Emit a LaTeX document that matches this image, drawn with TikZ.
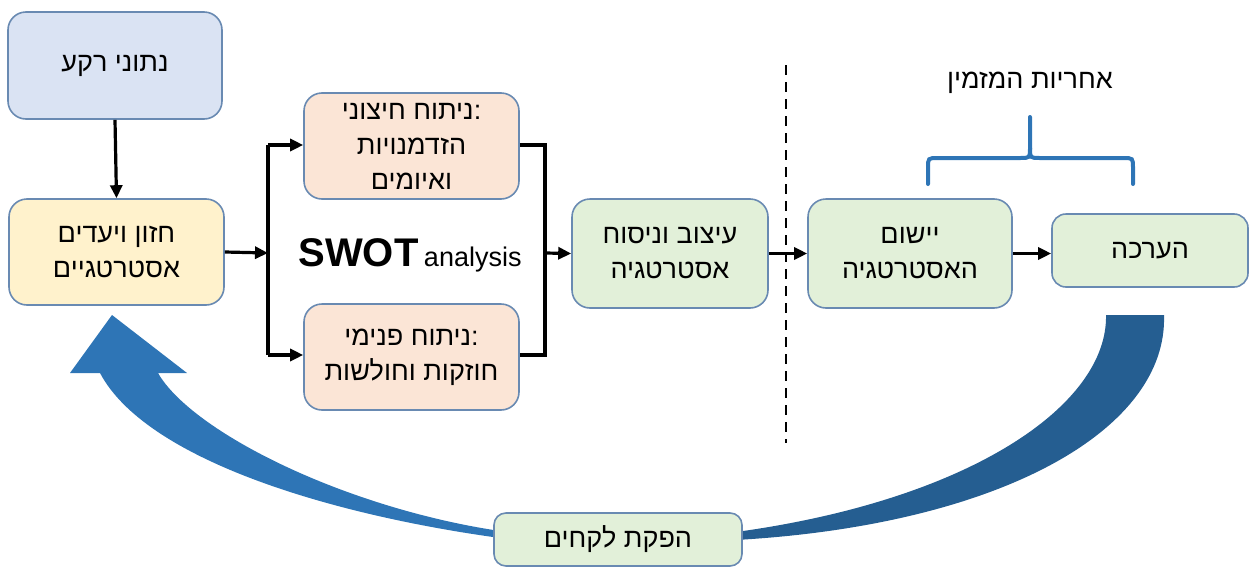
\documentclass[tikz,border=0pt]{standalone}
\usepackage{fontspec}
\setmainfont{Liberation Sans}
\newfontfamily\hebfont[Script=Hebrew]{Liberation Sans}
\TeXXeTstate=1
\usetikzlibrary{arrows.meta}
\definecolor{bordc}{RGB}{105,138,178}
\definecolor{fillblue}{RGB}{218,227,243}
\definecolor{fillyellow}{RGB}{255,242,204}
\definecolor{fillpeach}{RGB}{251,229,214}
\definecolor{fillgreen}{RGB}{226,240,217}
\definecolor{arrowlight}{RGB}{46,117,182}
\definecolor{arrowdark}{RGB}{37,94,145}
\definecolor{bracec}{RGB}{46,117,182}
\begin{document}
\begin{tikzpicture}[x=0.5pt,y=-0.5pt,
  box/.style={draw=bordc, line width=0.8pt, rounded corners=9pt, inner sep=0pt,
    align=center, font=\hebfont\fontsize{13.5}{17.5}\selectfont},
  conn/.style={line width=1.6pt, -{Triangle[length=6.5pt,width=6pt]}},
  plainconn/.style={line width=1.6pt},
  divider/.style={line width=1pt, dash pattern=on 5pt off 3.5pt},
  bracestyle/.style={draw=bracec, line width=2pt, line cap=round},
  lbl/.style={font=\hebfont\fontsize{13.5}{17.5}\selectfont, inner sep=0pt}]
\useasboundingbox (0,0) rectangle (1249,568);

% big curved feedback arrow (drawn first, behind the boxes)
\fill[arrowlight] (500,538) .. controls (325,514) and (145,458) .. (100,373)
  -- (70,373) -- (112,315) -- (187,373) -- (158,373)
  .. controls (192,432) and (345,508) .. (500,531) -- cycle;
\fill[arrowdark] (736,540) .. controls (1000,525) and (1168,430) .. (1164,315)
  -- (1106,315)
  .. controls (1108,405) and (970,500) .. (736,532) -- cycle;

% boxes
\node[box, fill=fillblue, minimum width=107pt, minimum height=53.5pt] (bg) at (115,65.5) {\beginR נתוני רקע\endR};
\node[box, fill=fillyellow, minimum width=107.5pt, minimum height=53pt] (vis) at (116.5,252) {\beginR חזון ויעדים\endR\\\beginR אסטרטגיים\endR};
\node[box, fill=fillpeach, minimum width=107.5pt, minimum height=53pt] (ext) at (411.5,146) {\beginR ניתוח חיצוני\endR:\\\beginR הזדמנויות\endR\\\beginR ואיומים\endR};
\node[box, fill=fillpeach, minimum width=107.5pt, minimum height=53pt] (int) at (411.5,357) {\beginR ניתוח פנימי\endR:\\\beginR חוזקות וחולשות\endR};
\node[box, fill=fillgreen, minimum width=98pt, minimum height=54.5pt] (form) at (670,253.5) {\beginR עיצוב וניסוח\endR\\\beginR אסטרטגיה\endR};
\node[box, fill=fillgreen, minimum width=102pt, minimum height=54.5pt] (impl) at (910,253.5) {\beginR יישום\endR\\\beginR האסטרטגיה\endR};
\node[box, fill=fillgreen, rounded corners=7pt, minimum width=98pt, minimum height=36.5pt] (eval) at (1150,250.5) {\beginR הערכה\endR};
\node[box, fill=fillgreen, rounded corners=6pt, minimum width=124pt, minimum height=26.5pt] (lessons) at (618,539.5) {\beginR הפקת לקחים\endR};

% SWOT label
\node[anchor=base, inner sep=0pt] (swot) at (410,266) {{\fontsize{20}{24}\selectfont\bfseries SWOT} {\fontsize{13.5}{16}\selectfont analysis}};

% responsibility label and brace
\node[lbl] (resp) at (1030,83) {\beginR אחריות המזמין\endR};
\coordinate (braceTip) at (1030,117);
\draw[bracestyle] (928,184) -- (928,168) .. controls (928,158) .. (938,158) -- (1020,158) .. controls (1030,158) .. (1030,148) -- (braceTip);
\draw[bracestyle] (1133,184) -- (1133,168) .. controls (1133,158) .. (1123,158) -- (1040,158) .. controls (1030,158) .. (1030,148);

% divider
\coordinate (dashTop) at (786,65);
\coordinate (dashBot) at (786,443);
\draw[divider] (dashTop) -- (dashBot);

% connectors
\coordinate (splitL) at (268,253);
\coordinate (splitR) at (545,253);
\draw[conn] (bg.south) -- (vis.north);
\draw[conn] (vis.east) -- (splitL);
\draw[plainconn] (268,145) -- (268,355);
\draw[conn] (splitL |- 0,145) -- (ext.west |- 0,145);
\draw[conn] (splitL |- 0,355) -- (int.west |- 0,355);
\draw[plainconn] (ext.east |- 0,145) -| (splitR);
\draw[plainconn] (int.east |- 0,355) -| (splitR);
\draw[conn] (splitR) -- (form.west);
\draw[conn] (form.east) -- (impl.west);
\draw[conn] (impl.east) -- (impl.east -| eval.west);
\end{tikzpicture}
\end{document}
